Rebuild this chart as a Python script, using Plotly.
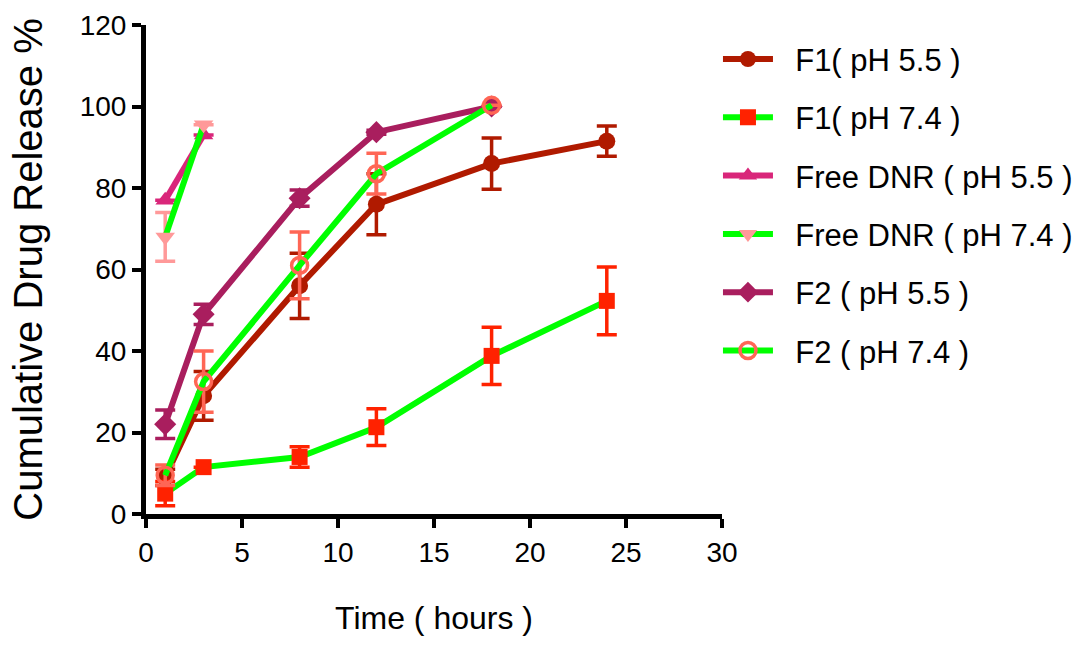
import plotly.graph_objects as go

FONT = "Liberation Sans, Arial, sans-serif"

# ---- data ----
t_f1 = [1, 3, 8, 12, 18, 24]
f1_55 = [9, 29, 56, 76, 86, 91.5]
f1_55_err = [2, 6, 8, 7.5, 6.3, 3.7]
f1_74 = [5, 11.5, 14, 21.3, 38.8, 52.3]
f1_74_err = [3, 0, 2.5, 4.5, 7, 8.3]

t_free = [1, 3]
free_55 = [77, 93]
free_55_err = [0, 0]
free_74 = [68, 95.5]
free_74_err = [6, 0]

t_f2 = [1, 3, 8, 12, 18]
f2_55 = [22, 49, 77.5, 93.7, 100]
f2_55_err = [3.5, 2.5, 2, 0.5, 0]
f2_74 = [9.5, 32.5, 61, 83.5, 100.3]
f2_74_err = [2.5, 7.5, 8.2, 5, 0]

names = ["F1( pH 5.5 )", "F1( pH 7.4 )", "Free DNR ( pH 5.5 )",
         "Free DNR ( pH 7.4 )", "F2 ( pH 5.5 )", "F2 ( pH 7.4 )"]

GREEN = "#00FF00"
series = [
    (t_f1, f1_55, f1_55_err, "#B01A00", "#B01A00", "circle", 17),
    (t_f1, f1_74, f1_74_err, GREEN, "#FF2200", "square", 16),
    (t_free, free_55, free_55_err, "#D9267A", "#D9267A", "triangle-up", 17),
    (t_free, free_74, free_74_err, GREEN, "#FF9999", "triangle-down", 17),
    (t_f2, f2_55, f2_55_err, "#A91E5E", "#A91E5E", "diamond", 17),
    (t_f2, f2_74, f2_74_err, GREEN, "#FF6655", "circle-open", 16),
]

fig = go.Figure()
for i, (x, y, e, lc, mc, sym, ms) in enumerate(series):
    marker = dict(symbol=sym, size=ms, color=mc)
    if sym == "circle-open":
        marker["line"] = dict(color=mc, width=3.5)
    fig.add_trace(go.Scatter(
        x=x, y=y, name="\u00a0\u00a0" + names[i], mode="lines+markers",
        legendgroup=f"g{i}",
        line=dict(color=lc, width=6),
        marker=marker,
        error_y=dict(type="data", array=e, visible=True, color=mc,
                     thickness=3.5, width=10),
    ))

axis_common = dict(showline=True, linecolor="black", linewidth=5,
                   ticks="outside", ticklen=9, tickwidth=4, tickcolor="black",
                   showgrid=False, zeroline=False,
                   tickfont=dict(family=FONT, size=28, color="black"))

fig.update_xaxes(range=[0, 30], tickvals=[0, 5, 10, 15, 20, 25, 30],
                 title=dict(text="Time ( hours )", font=dict(family=FONT, size=32, color="black"),
                            standoff=42),
                 **axis_common)
fig.update_yaxes(range=[0, 120], tickvals=[0, 20, 40, 60, 80, 100, 120],
                 title=dict(text="Cumulative Drug Release %", font=dict(family=FONT, size=40, color="black"),
                            standoff=26),
                 **axis_common)

fig.update_layout(
    width=1082, height=645,
    margin=dict(l=146, r=360, t=25, b=131, autoexpand=False),
    plot_bgcolor="white", paper_bgcolor="white",
    font=dict(family=FONT, color="black"),
    legend=dict(x=0.993, xanchor="left", y=0.985, yanchor="top",
                font=dict(family=FONT, size=31, color="black"),
                itemwidth=50, tracegroupgap=15, bgcolor="rgba(0,0,0,0)"),
)

fig.write_html("out.html")
